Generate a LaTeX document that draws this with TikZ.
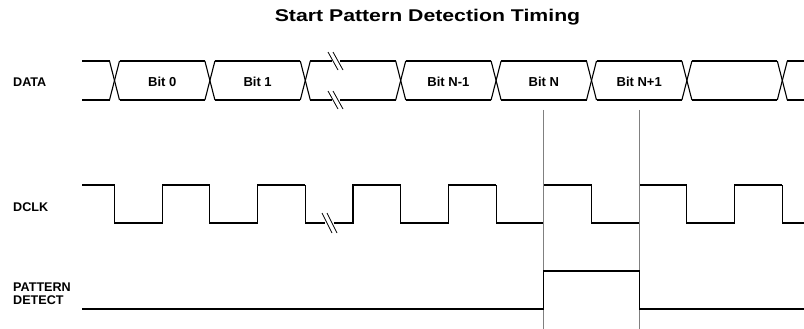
\documentclass[tikz,border=0pt]{standalone}
\usepackage{fontspec}
\setmainfont{Liberation Sans}
\usepackage{graphicx}

\def\first{114.5}
\def\per{95.4}

\begin{document}
\begin{tikzpicture}[x=1pt,y=-1pt,
        wave/.style={black,line width=1.1pt,line join=miter},
        marker/.style={gray,line width=0.8pt},
        sig/.style={font=\bfseries\fontsize{12.6}{13}\selectfont,anchor=west,align=left,inner sep=0pt},
        bitlabel/.style={font=\bfseries\fontsize{13}{14}\selectfont}]
    \useasboundingbox (0,0) rectangle (804,329);

    % title
    \node (title) at (427.5,16.8) {\fontsize{17}{18}\selectfont\bfseries\scalebox{1.25}[1]{Start Pattern Detection Timing}};

    % signal names
    \node[sig] (data) at (13,82) {DATA};
    \node[sig] (dclk) at (13,207) {DCLK};
    \node[sig] (detect) at (13,293.5) {PATTERN\\DETECT};

    % DATA bus
    \draw[wave] (82,61) -- (\first-5,61);
    \draw[wave] (82,100) -- (\first-5,100);
    \foreach \k in {0,...,7} {
        \pgfmathsetmacro\cx{\first+\k*\per}
        \draw[wave] (\cx-5,61) -- (\cx+5,100);
        \draw[wave] (\cx-5,100) -- (\cx+5,61);
    }
    \foreach \k in {0,1,3,4,5,6} {
        \pgfmathsetmacro\xa{\first+\k*\per+5}
        \pgfmathsetmacro\xb{\first+(\k+1)*\per-5}
        \draw[wave] (\xa,61) -- (\xb,61);
        \draw[wave] (\xa,100) -- (\xb,100);
    }
    \draw[wave] (\first+7*\per+5,61) -- (804,61);
    \draw[wave] (\first+7*\per+5,100) -- (804,100);
    % broken slot
    \draw[wave] (\first+2*\per+5,61) -- (332,61);
    \draw[wave] (340,61) -- (\first+3*\per-5,61);
    \draw[wave] (\first+2*\per+5,100) -- (332,100);
    \draw[wave] (340,100) -- (\first+3*\per-5,100);
    \foreach \bx in {333,338} {
        \draw[wave,line width=0.8pt] (\bx-5,52) -- (\bx+5,70);
        \draw[wave,line width=0.8pt] (\bx-5,91) -- (\bx+5,109);
    }

    \node[bitlabel] (bit0) at (\first+0.5*\per,82) {Bit 0};
    \node[bitlabel] (bit1) at (\first+1.5*\per,82) {Bit 1};
    \node[bitlabel] (bitNm) at (\first+3.5*\per,82) {Bit N-1};
    \node[bitlabel] (bitN) at (\first+4.5*\per,82) {Bit N};
    \node[bitlabel] (bitNp) at (\first+5.5*\per,82) {Bit N+1};

    % DCLK
    \draw[wave] (82,185) -- (\first,185);
    \foreach \k in {0,1,3,4,5,6} {
        \pgfmathsetmacro\cx{\first+\k*\per}
        \pgfmathsetmacro\rx{\first+(\k+0.5)*\per}
        \pgfmathsetmacro\nx{\first+(\k+1)*\per}
        \draw[wave] (\cx,185) -- (\cx,223) -- (\rx,223) -- (\rx,185) -- (\nx,185);
    }
    \draw[wave] (\first+2*\per,185) -- (\first+2*\per,223) -- (325,223);
    \draw[wave] (334,223) -- (\first+2.5*\per,223) -- (\first+2.5*\per,185) -- (\first+3*\per,185);
    \foreach \bx in {327,332} {
        \draw[wave,line width=0.8pt] (\bx-5,213) -- (\bx+5,233);
    }
    \draw[wave] (\first+7*\per,185) -- (\first+7*\per,223) -- (804,223);

    % markers
    \coordinate (m1top) at (\first+4.5*\per,110);
    \coordinate (m1bot) at (\first+4.5*\per,329);
    \coordinate (m2top) at (\first+5.5*\per,110);
    \coordinate (m2bot) at (\first+5.5*\per,329);
    \draw[marker] (m1top) -- (m1bot);
    \draw[marker] (m2top) -- (m2bot);

    % PATTERN DETECT
    \draw[wave] (82,309) -- (\first+4.5*\per,309) -- (\first+4.5*\per,271)
        -- (\first+5.5*\per,271) -- (\first+5.5*\per,309) -- (804,309);
\end{tikzpicture}
\end{document}
